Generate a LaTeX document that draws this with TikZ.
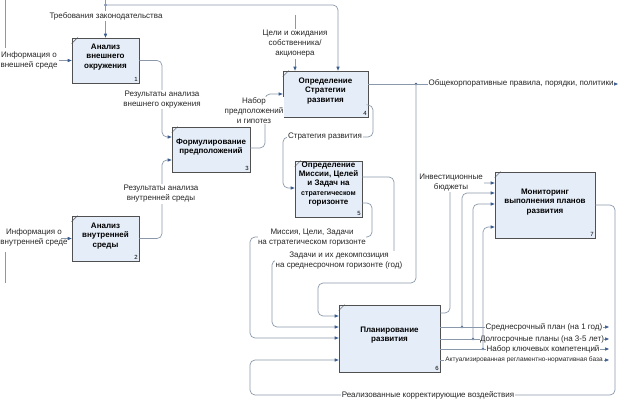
\documentclass[tikz,border=0pt]{standalone}
\usepackage{fontspec}
\setmainfont{Liberation Sans}
\usetikzlibrary{arrows.meta,shadows}
\definecolor{ln}{HTML}{8A98AC}
\definecolor{ah}{HTML}{3A5C8E}
\definecolor{bfill}{HTML}{E5EDF8}
\definecolor{bdraw}{HTML}{505050}
\tikzset{
 box/.style={draw=bdraw, line width=0.65pt, fill=bfill, inner sep=0pt,
   drop shadow={shadow xshift=0.8pt,shadow yshift=-0.9pt,fill=black!40,opacity=1}},
 btext/.style={font=\fontsize{8}{9.6}\selectfont\bfseries, align=center, inner sep=0pt},
 lbl/.style={font=\fontsize{8}{10}\selectfont, align=center, inner sep=1pt, fill=white, text=black!85},
 lblnf/.style={font=\fontsize{8}{10}\selectfont, align=center, inner sep=1pt, text=black!85},
 smalllbl/.style={font=\fontsize{6.5}{8}\selectfont, inner sep=1pt, fill=white, text=black!85},
 num/.style={font=\fontsize{6}{6}\selectfont, inner sep=1.5pt, anchor=south east},
 conn/.style={draw=ln, line width=0.7pt, rounded corners=5pt, -{Triangle[length=4pt,width=3.2pt,color=ah]}},
 wire/.style={draw=ln, line width=0.7pt, rounded corners=5pt},
 dot/.style={circle, fill=ah, inner sep=0pt, minimum size=2.6pt},
 notch/.style={draw=bdraw, line width=0.5pt},
}
\begin{document}
\begin{tikzpicture}[x=1pt,y=-1pt]
\useasboundingbox (0,0) rectangle (620,401);

% boxes
\node[box, minimum width=67pt, minimum height=45pt] (b1) at (105.5,60.5) {};
\node[box, minimum width=67pt, minimum height=45pt] (b2) at (105.5,238.5) {};
\node[box, minimum width=78pt, minimum height=45pt] (b3) at (211,149.5) {};
\node[box, minimum width=85pt, minimum height=46pt] (b4) at (325.5,94) {};
\node[box, minimum width=67pt, minimum height=56pt] (b5) at (328.5,189) {};
\node[box, minimum width=101pt, minimum height=67pt] (b6) at (389.5,338.5) {};
\node[box, minimum width=100pt, minimum height=66pt] (b7) at (545,205) {};

\foreach \b in {b1,b2,b3,b4,b5,b6,b7}{
  \draw[notch] ([shift={(0,6)}]\b.north west) -- ([shift={(6,0)}]\b.north west);
}

% box texts
\node[btext] (t1) at (105.5,57) {Анализ\\внешнего\\окружения};
\node[btext] (t2) at (105.5,236) {Анализ\\внутренней\\среды};
\node[btext] (t3) at (211,147) {Формулирование\\предположений};
\node[btext] (t4) at (325.5,91) {Определение\\Стратегии\\развития};
\node[btext, font=\fontsize{8}{9.3}\selectfont\bfseries] (t5) at (328.5,184) {Определение\\Миссии, Целей\\и Задач на\\{\fontsize{7}{9.3}\selectfont стратегическом}\\горизонте};
\node[btext] (t6) at (389.5,335) {Планирование\\развития};
\node[btext] (t7) at (545,202) {Мониторинг\\выполнения планов\\развития};

% numbers
\node[num] (n1) at (b1.south east) {1};
\node[num] (n2) at (b2.south east) {2};
\node[num] (n3) at (b3.south east) {3};
\node[num] (n4) at (b4.south east) {4};
\node[num] (n5) at (b5.south east) {5};
\node[num] (n6) at (b6.south east) {6};
\node[num] (n7) at (b7.south east) {7};

% free ends
\coordinate (s1) at (105.5,0);
\coordinate (s2) at (295,15);
\coordinate (s3) at (59,60.5);
\coordinate (s4) at (61,238.5);
\coordinate (e1) at (618,84);
\coordinate (e2) at (609,327);
\coordinate (e3) at (609,339);
\coordinate (e4) at (609,349);
\coordinate (e5) at (609,360);
\coordinate (la) at (5,0);
\coordinate (lb) at (5,48);
\coordinate (lc) at (5,252);
\coordinate (ld) at (5,283);

% junction dots
\node[dot] (d0) at (105.5,5) {};
\node[dot] (d1) at (416,84) {};
\node[dot] (d2) at (462,327) {};
\node[dot] (d3) at (473,339) {};
\node[dot] (d4) at (483,349) {};

% left stubs
\draw[wire] (la) -- (lb);
\draw[wire] (lc) -- (ld);

% connectors
\draw[conn] (s1) -- (b1.north);
\draw[conn] (d0.center) -- (338,5) -- ([shift={(12.5,0)}]b4.north);
\draw[conn] (s2) -- ([shift={(-30.5,0)}]b4.north);
\draw[conn] (s3) -- (b1.west);
\draw[conn] (s4) -- (b2.west);
\draw[conn] (b1.east) -- (162,60.5) -- (162,137) -- ([shift={(0,-12.5)}]b3.west);
\draw[conn] (b2.east) -- (162,238.5) -- (162,160) -- ([shift={(0,10.5)}]b3.west);
\draw[conn] ([shift={(0,-1.5)}]b3.east) -- (265,148) -- (265,94) -- (b4.west);
\draw[conn] ([shift={(0,11)}]b4.east) -- (373,105) -- (373,137) -- (283,137) -- (283,188) -- ([shift={(0,-1)}]b5.west);
\draw[wire] ([shift={(0,-10)}]b4.east) -- (d1.center);
\draw[conn] (d1.center) -- (e1);
\draw[conn] (d1.center) -- (416,283) -- (318,283) -- (318,316) -- ([shift={(0,-22.5)}]b6.west);
\draw[conn] ([shift={(0,-12)}]b5.east) -- (394,177) -- (394,260) -- (272,260) -- (272,327) -- ([shift={(0,-11.5)}]b6.west);
\draw[conn] ([shift={(0,14)}]b5.east) -- (372,203) -- (372,237) -- (250,237) -- (250,338) -- ([shift={(0,-0.5)}]b6.west);
\draw[conn] (b7.east) -- (615,205) -- (615,395) -- (250,395) -- (250,360) -- ([shift={(0,21.5)}]b6.west);
\draw[conn] ([shift={(0,-25.5)}]b6.east) -- (450,313) -- (450,183) -- ([shift={(0,-22)}]b7.west);
\draw[wire] ([shift={(0,-11.5)}]b6.east) -- (d2.center);
\draw[conn] (d2.center) -- (e2);
\draw[conn] (d2.center) -- (462,193) -- ([shift={(0,-12)}]b7.west);
\draw[wire] ([shift={(0,0.5)}]b6.east) -- (d3.center);
\draw[conn] (d3.center) -- (e3);
\draw[conn] (d3.center) -- (473,204) -- ([shift={(0,-1)}]b7.west);
\draw[wire] ([shift={(0,10.5)}]b6.east) -- (d4.center);
\draw[conn] (d4.center) -- (e4);
\draw[conn] ([shift={(0,21.5)}]b6.east) -- (e5);

% labels
\node[lbl] (L1) at (106,16) {Требования законодательства};
\node[lblnf] (L2) at (29,60) {Информация о\\внешней среде};
\node[lblnf] (L3) at (34,237) {Информация о\\внутренней среде};
\node[lbl] (L4) at (162,99.5) {Результаты анализа\\внешнего окружения};
\node[lbl] (L5) at (161,194) {Результаты анализа\\внутренней среды};
\node[lbl, inner sep=0.5pt] (L6) at (254,110.5) {Набор\\предположений\\и гипотез};
\node[lbl] (L7) at (295,44) {Цели и ожидания\\собственника/\\акционера};
\node[lbl] (L8) at (521,83.5) {Общекорпоративные правила, порядки, политики};
\node[lbl] (L9) at (325,137) {Стратегия развития};
\node[lbl, inner sep=0.5pt] (L10) at (312,238) {Миссия, Цели, Задачи\\на стратегическом горизонте};
\node[lbl, inner sep=0.5pt] (L11) at (339,260.5) {Задачи и их декомпозиция\\на среднесрочном горизонте (год)};
\node[lbl] (L12) at (451,182.5) {Инвестиционные\\бюджеты};
\node[lbl, inner sep=0.5pt] (L13) at (544,327) {Среднесрочный план (на 1 год)};
\node[lbl, inner sep=0.5pt] (L14) at (542,339) {Долгосрочные планы (на 3-5 лет)};
\node[lbl, inner sep=0.5pt] (L15) at (543,349) {Набор ключевых компетенций};
\node[smalllbl] (L16) at (524,360) {Актуализированная регламентно-нормативная база};
\node[lbl] (L17) at (428,395) {Реализованные корректирующие воздействия};

% drawn over the label
\draw[conn] (d4.center) -- (483,227) -- ([shift={(0,22)}]b7.west);
\end{tikzpicture}
\end{document}
